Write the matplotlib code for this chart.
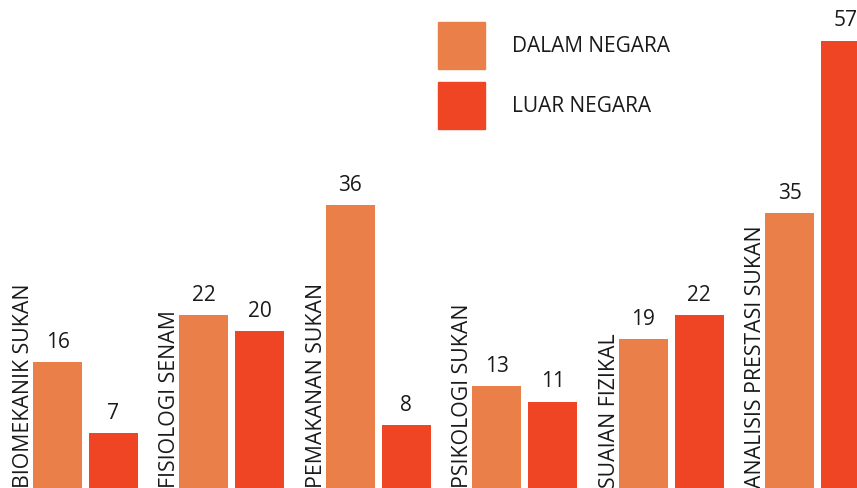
import numpy as np
import matplotlib.pyplot as plt
from matplotlib.patches import Rectangle

categories = ['BIOMEKANIK SUKAN', 'FISIOLOGI SENAM', 'PEMAKANAN SUKAN',
              'PSIKOLOGI SUKAN', 'SUAIAN FIZIKAL', 'ANALISIS PRESTASI SUKAN']
dalam = [16, 22, 36, 13, 19, 35]
luar = [7, 20, 8, 11, 22, 57]
series = ['DALAM NEGARA', 'LUAR NEGARA']
colors = ['#EA7F4A', '#EF4524']

plt.rcParams['font.family'] = ['Open Sans', 'DejaVu Sans']

W, H = 857, 489
fig = plt.figure(figsize=(W / 100, H / 100), dpi=100)
ax = fig.add_axes([0, 0, 1, 1])

step = 146.4
width = 49 / step
off = 56 / step
x = np.arange(len(categories))

ax.bar(x, dalam, width, color=colors[0])
ax.bar(x + off, luar, width, color=colors[1])

tc = '#1a1a1a'
for i in range(len(categories)):
    ax.text(x[i], dalam[i] + 1.3, str(dalam[i]), ha='center', va='bottom',
            fontsize=15, color=tc)
    ax.text(x[i] + off, luar[i] + 1.3, str(luar[i]), ha='center', va='bottom',
            fontsize=15, color=tc)
    ax.text(x[i] - 34 / step, 0.1, categories[i], rotation=90, ha='center',
            va='bottom', fontsize=15.3, color=tc)

ppu = 7.85
ax.set_xlim(-57.5 / step, (W - 57.5) / step)
ax.set_ylim(0, H / ppu)
ax.axis('off')

# legend drawn in pixel coordinates of the figure
for k, (name, c) in enumerate(zip(series, colors)):
    top = 23 + k * 60
    fig.patches.append(Rectangle((438 / W, 1 - (top + 47) / H), 47 / W, 47 / H,
                                 transform=fig.transFigure, color=c))
    fig.text(512 / W, 1 - (top + 24) / H, name, ha='left', va='center',
             fontsize=15, color=tc)

fig.savefig('out.png', dpi=100)
